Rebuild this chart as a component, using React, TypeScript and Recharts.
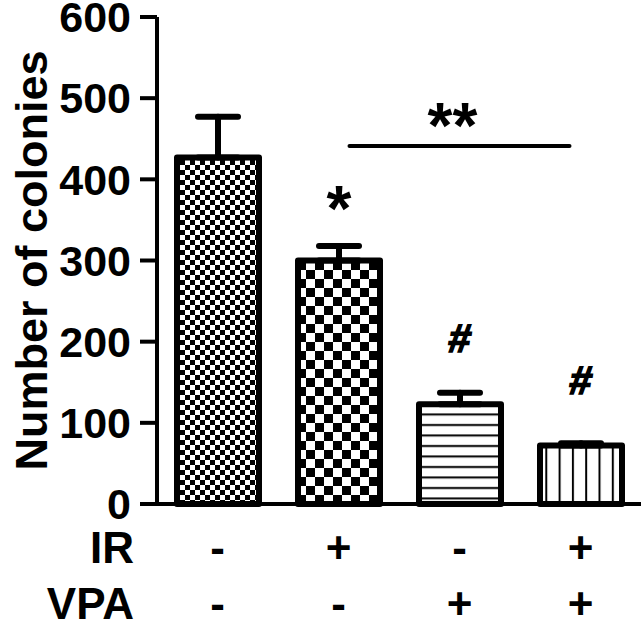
import React from "react";
import {
  Bar,
  BarChart,
  Cell,
  ErrorBar,
  LabelList,
  ReferenceLine,
  XAxis,
  YAxis,
} from "recharts";

const GROUPS = ["Control", "IR", "VPA", "IR+VPA"];
const COLONIES = [427, 300, 123, 72];
const ERRORS = [50, 18, 14, 3];
const IR_ROW = ["-", "+", "-", "+"];
const VPA_ROW = ["-", "-", "+", "+"];
const MARKS = ["", "*", "#", "#"];
const Y_TICKS = [0, 100, 200, 300, 400, 500, 600];
const BRACKET = { from: "IR", to: "IR+VPA", y: 441, text: "**" };

const data = GROUPS.map((group, i) => ({
  group,
  value: COLONIES[i],
  err: [0, ERRORS[i]],
  mark: MARKS[i],
}));

const FONT = '"Liberation Sans", Arial, sans-serif';
const FILLS = ["url(#pFine)", "url(#pCoarse)", "url(#pHoriz)", "url(#pVert)"];

function Patterns() {
  return (
    <svg width={0} height={0} style={{ position: "absolute" }}>
      <defs>
        <pattern id="pFine" width={10} height={10} patternUnits="userSpaceOnUse">
          <rect width={10} height={10} fill="#fff" />
          <rect width={5} height={5} fill="#000" />
          <rect x={5} y={5} width={5} height={5} fill="#000" />
        </pattern>
        <pattern id="pCoarse" width={18} height={18} patternUnits="userSpaceOnUse">
          <rect width={18} height={18} fill="#fff" />
          <rect width={9} height={9} fill="#000" />
          <rect x={9} y={9} width={9} height={9} fill="#000" />
        </pattern>
        <pattern id="pHoriz" width={10} height={10.5} patternUnits="userSpaceOnUse">
          <rect width={10} height={10.5} fill="#fff" />
          <rect y={4} width={10} height={2} fill="#000" />
        </pattern>
        <pattern id="pVert" width={13.3} height={10} patternUnits="userSpaceOnUse">
          <rect width={13.3} height={10} fill="#fff" />
          <rect x={0} width={2} height={10} fill="#000" />
        </pattern>
      </defs>
    </svg>
  );
}

function GroupTick({ x, y, payload }: any) {
  const i = payload.index;
  return (
    <g fontFamily={FONT} fontWeight="bold" fontSize={44} fill="#000">
      <text x={x} y={y + 59} textAnchor="middle">
        {IR_ROW[i]}
      </text>
      <text x={x} y={y + 115} textAnchor="middle">
        {VPA_ROW[i]}
      </text>
    </g>
  );
}

function RowNames({ viewBox }: any) {
  const { x, y } = viewBox;
  return (
    <g fontFamily={FONT} fontWeight="bold" fontSize={44} fill="#000">
      <text x={x - 23} y={y + 59} textAnchor="end">
        IR
      </text>
      <text x={x - 23} y={y + 115} textAnchor="end">
        VPA
      </text>
    </g>
  );
}

function YTitle({ viewBox }: any) {
  const cy = viewBox.y + viewBox.height / 2;
  return (
    <text
      x={47}
      y={cy}
      transform={`rotate(-90 47 ${cy})`}
      textAnchor="middle"
      fontFamily={FONT}
      fontWeight="bold"
      fontSize={45}
      fill="#000"
    >
      Number of colonies
    </text>
  );
}

function MarkLabel({ x, y, width, value }: any) {
  if (!value) return null;
  const star = value === "*";
  return (
    <text
      x={x + width / 2}
      y={y - (star ? 30 : 52)}
      textAnchor="middle"
      fontFamily={FONT}
      fontWeight="bold"
      fontSize={star ? 64 : 40}
      fill="#000"
      stroke="#000"
      strokeWidth={star ? 0 : 1.6}
      transform={star ? undefined : `skewX(-8)`}
      style={star ? undefined : { transformBox: "fill-box", transformOrigin: "center" }}
    >
      {value}
    </text>
  );
}

function BracketLine({ x1, y1, x2 }: any) {
  return (
    <g>
      <line
        x1={x1 + 11}
        y1={y1}
        x2={x2 - 11}
        y2={y1}
        stroke="#000"
        strokeWidth={4}
        strokeLinecap="round"
      />
      <text
        x={(x1 + x2) / 2 - 7}
        y={y1 + 2}
        textAnchor="middle"
        fontFamily={FONT}
        fontWeight="bold"
        fontSize={64}
        fill="#000"
      >
        {BRACKET.text}
      </text>
    </g>
  );
}

export default function App() {
  return (
    <div style={{ position: "absolute", left: 0, top: 0, background: "#fff" }}>
      <Patterns />
      <BarChart
        width={643}
        height={623}
        data={data}
        margin={{ top: 17, right: 2, left: 0, bottom: 0 }}
        barSize={82}
      >
        <XAxis
          dataKey="group"
          height={119}
          interval={0}
          tickLine={false}
          tickSize={0}
          tickMargin={0}
          stroke="#000"
          strokeWidth={4}
          axisLine={{ stroke: "#000", strokeWidth: 4 }}
          tick={<GroupTick />}
          label={<RowNames />}
        />
        <YAxis
          width={157}
          domain={[0, 600]}
          ticks={Y_TICKS}
          interval={0}
          tickSize={17}
          tickMargin={9}
          stroke="#000"
          strokeWidth={4}
          axisLine={{ stroke: "#000", strokeWidth: 4 }}
          tickLine={{ stroke: "#000", strokeWidth: 4 }}
          tick={{ fill: "#000", stroke: "none", fontSize: 43, fontWeight: "bold", fontFamily: FONT }}
          label={<YTitle />}
        />
        <Bar
          dataKey="value"
          stroke="#000"
          strokeWidth={6}
          strokeLinejoin="round"
          isAnimationActive={false}
        >
          {data.map((d, i) => (
            <Cell key={d.group} fill={FILLS[i]} />
          ))}
          <ErrorBar
            dataKey="err"
            width={20}
            stroke="#000"
            strokeWidth={6}
            strokeLinecap="round"
            isAnimationActive={false}
          />
          <LabelList dataKey="mark" content={<MarkLabel />} />
        </Bar>
        <ReferenceLine
          segment={[
            { x: BRACKET.from, y: BRACKET.y },
            { x: BRACKET.to, y: BRACKET.y },
          ]}
          shape={(p: any) => <BracketLine {...p} />}
        />
      </BarChart>
    </div>
  );
}
